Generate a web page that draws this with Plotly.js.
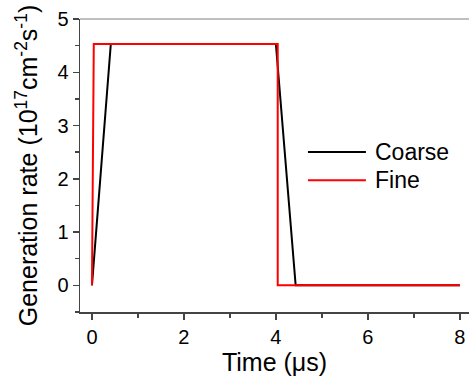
<!DOCTYPE html>
<html><head><meta charset="utf-8">
<script src="https://cdn.plot.ly/plotly-3.0.1.min.js"></script>
<style>html,body{margin:0;padding:0;background:#fff}#c{width:469px;height:382px}</style>
</head><body><div id="c"></div>
<script>
const coarseT = [0, 0.41, 4.0, 4.43, 8];
const coarseG = [0, 4.53, 4.53, 0, 0];
const fineT = [0, 0.04, 4.04, 4.04, 8];
const fineG = [0, 4.53, 4.53, 0, 0];
const seriesNames = ['Coarse', 'Fine'];
const seriesColors = ['#000000', '#ff0000'];
const xTicks = [0, 2, 4, 6, 8];
const yTicks = [0, 1, 2, 3, 4, 5];

const traces = [
  {x: coarseT, y: coarseG, mode: 'lines', name: seriesNames[0], line: {color: seriesColors[0], width: 2}},
  {x: fineT, y: fineG, mode: 'lines', name: seriesNames[1], line: {color: seriesColors[1], width: 2}}
];
const fam = 'Liberation Sans, Arial, sans-serif';
const legY = [0.546, 0.450];
const shapes = [
  {type: 'line', xref: 'paper', yref: 'paper', x0: 0, x1: 1, y0: 1, y1: 1, line: {color: '#aaa', width: 1.5}}
];
const annotations = [];
seriesNames.forEach((n, i) => {
  shapes.push({type: 'line', xref: 'paper', yref: 'paper', x0: 0.586, x1: 0.735, y0: legY[i], y1: legY[i],
               line: {color: seriesColors[i], width: 2}});
  annotations.push({xref: 'paper', yref: 'paper', x: 0.753, y: legY[i], xanchor: 'left', yanchor: 'middle',
                    text: n, showarrow: false, font: {size: 23, family: fam, color: '#000'}});
});
const layout = {
  width: 469, height: 382,
  margin: {l: 80, r: 0, t: 19, b: 70},
  paper_bgcolor: '#fff', plot_bgcolor: '#fff',
  font: {family: fam, color: '#000'},
  showlegend: false,
  xaxis: {
    range: [-0.26, 8.2], tickvals: xTicks, ticktext: xTicks.map(String),
    ticks: 'outside', ticklen: 6, tickwidth: 1.5, tickcolor: '#444',
    showline: true, linecolor: '#444', linewidth: 1.5, showgrid: false, zeroline: false,
    tickfont: {size: 20, family: fam, color: '#000'},
    minor: {dtick: 1, tick0: 0, ticks: 'outside', ticklen: 4, tickcolor: '#444', tickwidth: 1.5},
    title: {text: 'Time (μs)', font: {size: 25, family: fam, color: '#000'}, standoff: 6}
  },
  yaxis: {
    range: [-0.5, 5], tickvals: yTicks, ticktext: yTicks.map(String),
    ticks: 'outside', ticklen: 6, tickwidth: 1.5, tickcolor: '#444',
    showline: true, linecolor: '#444', linewidth: 1.5, showgrid: false, zeroline: false,
    tickfont: {size: 20, family: fam, color: '#000'},
    minor: {dtick: 0.5, tick0: 0, ticks: 'outside', ticklen: 4, tickcolor: '#444', tickwidth: 1.5},
    title: {text: 'Generation rate (10<sup>17</sup>cm<sup>-2</sup>s<sup>-1</sup>)', font: {size: 25, family: fam, color: '#000'}, standoff: 12}
  },
  shapes: shapes,
  annotations: annotations
};
Plotly.newPlot('c', traces, layout, {staticPlot: true, displayModeBar: false});
</script></body></html>
